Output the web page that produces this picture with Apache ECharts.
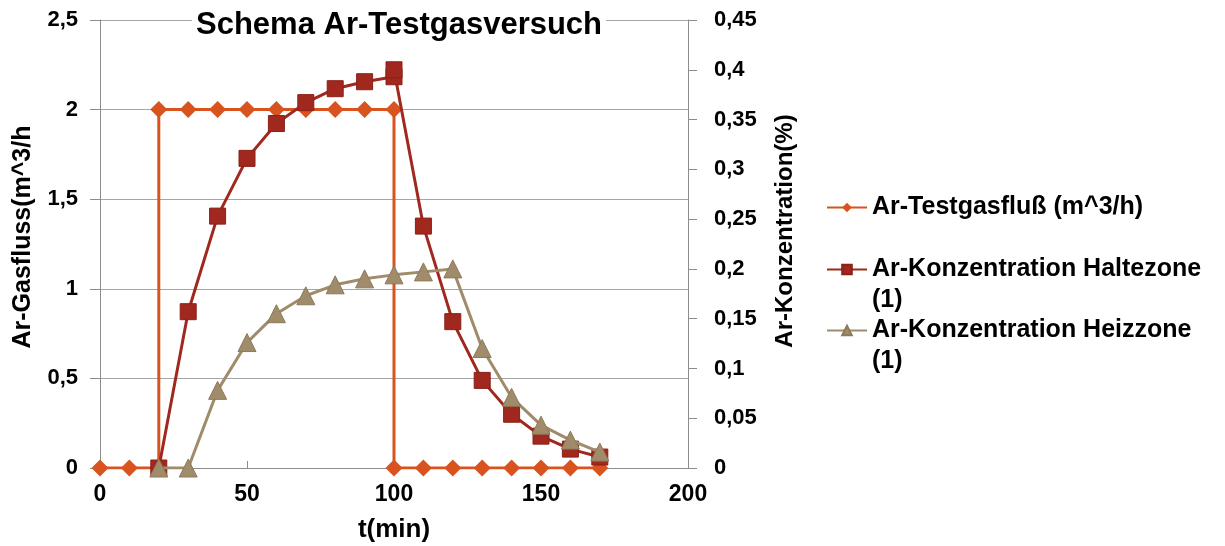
<!DOCTYPE html>
<html>
<head>
<meta charset="utf-8">
<script src="https://cdn.jsdelivr.net/npm/echarts@6/dist/echarts.min.js"></script>
<style>
  html, body { margin: 0; padding: 0; background: #fff; }
  #main { width: 1225px; height: 546px; }
</style>
</head>
<body>
<div id="main"></div>
<script>
// Ar-Testgasfluss (left axis, m^3/h)
var flowTime  = [0, 10, 20, 20, 30, 40, 50, 60, 70, 80, 90, 100, 100, 110, 120, 130, 140, 150, 160, 170];
var flowValue = [0, 0, 0, 2, 2, 2, 2, 2, 2, 2, 2, 2, 0, 0, 0, 0, 0, 0, 0, 0];

// Ar-Konzentration Haltezone (right axis, %)
var holdTime  = [20, 30, 40, 50, 60, 70, 80, 90, 100, 100, 110, 120, 130, 140, 150, 160, 170];
var holdValue = [0, 0.157, 0.253, 0.311, 0.346, 0.367, 0.381, 0.388, 0.393, 0.400, 0.243, 0.147, 0.088, 0.054, 0.032, 0.019, 0.011];

// Ar-Konzentration Heizzone (right axis, %)
var heatTime  = [20, 30, 40, 50, 60, 70, 80, 90, 100, 110, 120, 130, 140, 150, 160, 170];
var heatValue = [0, 0, 0.078, 0.126, 0.155, 0.173, 0.184, 0.190, 0.194, 0.197, 0.200, 0.120, 0.071, 0.043, 0.028, 0.016];

var names = ['Ar-Testgasfluß (m^3/h)', 'Ar-Konzentration Haltezone (1)', 'Ar-Konzentration Heizzone (1)'];
var colors = ['#D9531E', '#A0281E', '#A08C6B'];

function pairs(xs, ys) {
  return xs.map(function (x, i) { return [x, ys[i]]; });
}
function comma(v) {
  return String(v).replace('.', ',');
}

var chart = echarts.init(document.getElementById('main'));

var legendBase = {
  orient: 'vertical',
  left: 826,
  padding: 0,
  itemWidth: 40,
  itemHeight: 12,
  textStyle: { fontFamily: 'Liberation Sans', fontWeight: 'bold', fontSize: 25, color: '#000', lineHeight: 31 }
};
// wrapped items: blank first line so the icon sits beside the first text line
function wrap(name) { return '\n' + name.replace(' (1)', '\n(1)'); }

chart.setOption({
  animation: false,
  color: colors,
  title: {
    text: 'Schema Ar-Testgasversuch',
    left: 192,
    top: 10,
    padding: [0, 4],
    backgroundColor: '#fff',
    textStyle: { fontFamily: 'Liberation Sans', fontWeight: 'bold', fontSize: 31, color: '#000' }
  },
  legend: [
    Object.assign({}, legendBase, { top: 192, data: [names[0]] }),
    Object.assign({}, legendBase, { top: 223, data: [names[1]], formatter: wrap }),
    Object.assign({}, legendBase, { top: 284, data: [names[2]], formatter: wrap })
  ],
  grid: { left: 100, right: 537, top: 20, bottom: 78, outerBoundsMode: 'none' },
  xAxis: {
    type: 'value',
    min: 0, max: 200, interval: 50,
    name: 't(min)',
    nameLocation: 'middle',
    nameGap: 49,
    nameTextStyle: { fontFamily: 'Liberation Sans', fontWeight: 'bold', fontSize: 26, color: '#000' },
    axisLine: { onZero: false, lineStyle: { color: '#8c8c8c', width: 1 } },
    axisTick: { inside: true, length: 7, lineStyle: { color: '#8c8c8c' } },
    axisLabel: { margin: 15, fontFamily: 'Liberation Sans', fontWeight: 'bold', fontSize: 23, color: '#000' },
    splitLine: { show: false }
  },
  yAxis: [
    {
      type: 'value',
      min: 0, max: 2.5, interval: 0.5,
      name: 'Ar-Gasfluss(m^3/h',
      nameLocation: 'middle',
      nameGap: 64,
      nameTextStyle: { fontFamily: 'Liberation Sans', fontWeight: 'bold', fontSize: 25, color: '#000', padding: [0, 0, 0, 14] },
      axisLine: { show: true, lineStyle: { color: '#8c8c8c', width: 1 } },
      axisTick: { show: true, length: 10, lineStyle: { color: '#8c8c8c' } },
      axisLabel: { margin: 22, fontFamily: 'Liberation Sans', fontWeight: 'bold', fontSize: 22, color: '#000', formatter: comma },
      splitLine: { show: true, lineStyle: { color: '#a6a6a6', width: 1 } }
    },
    {
      type: 'value',
      min: 0, max: 0.45, interval: 0.05,
      name: 'Ar-Konzentration(%)',
      nameLocation: 'middle',
      nameGap: 85,
      nameRotate: 90,
      nameTextStyle: { fontFamily: 'Liberation Sans', fontWeight: 'bold', fontSize: 24, color: '#000', padding: [0, 0, 0, 26] },
      axisLine: { show: true, lineStyle: { color: '#8c8c8c', width: 1 } },
      axisTick: { show: true, length: 9, lineStyle: { color: '#8c8c8c' } },
      axisLabel: {
        margin: 26, fontFamily: 'Liberation Sans', fontWeight: 'bold', fontSize: 22, color: '#000',
        formatter: function (v) { return comma(+v.toFixed(2)); }
      },
      splitLine: { show: false }
    }
  ],
  series: [
    {
      name: names[0],
      type: 'line',
      yAxisIndex: 0,
      data: pairs(flowTime, flowValue),
      symbol: 'diamond',
      symbolSize: 17,
      lineStyle: { color: colors[0], width: 3 },
      itemStyle: { color: colors[0] },
      z: 3
    },
    {
      name: names[1],
      type: 'line',
      yAxisIndex: 1,
      data: pairs(holdTime, holdValue),
      symbol: 'rect',
      symbolSize: 16,
      lineStyle: { color: colors[1], width: 3 },
      itemStyle: { color: colors[1], borderColor: '#8a2016', borderWidth: 1 },
      z: 4
    },
    {
      name: names[2],
      type: 'line',
      yAxisIndex: 1,
      data: pairs(heatTime, heatValue),
      symbol: 'triangle',
      symbolSize: 18,
      lineStyle: { color: colors[2], width: 3 },
      itemStyle: { color: colors[2], borderColor: '#8c7a5b', borderWidth: 1 },
      z: 5
    }
  ]
});
</script>
</body>
</html>
